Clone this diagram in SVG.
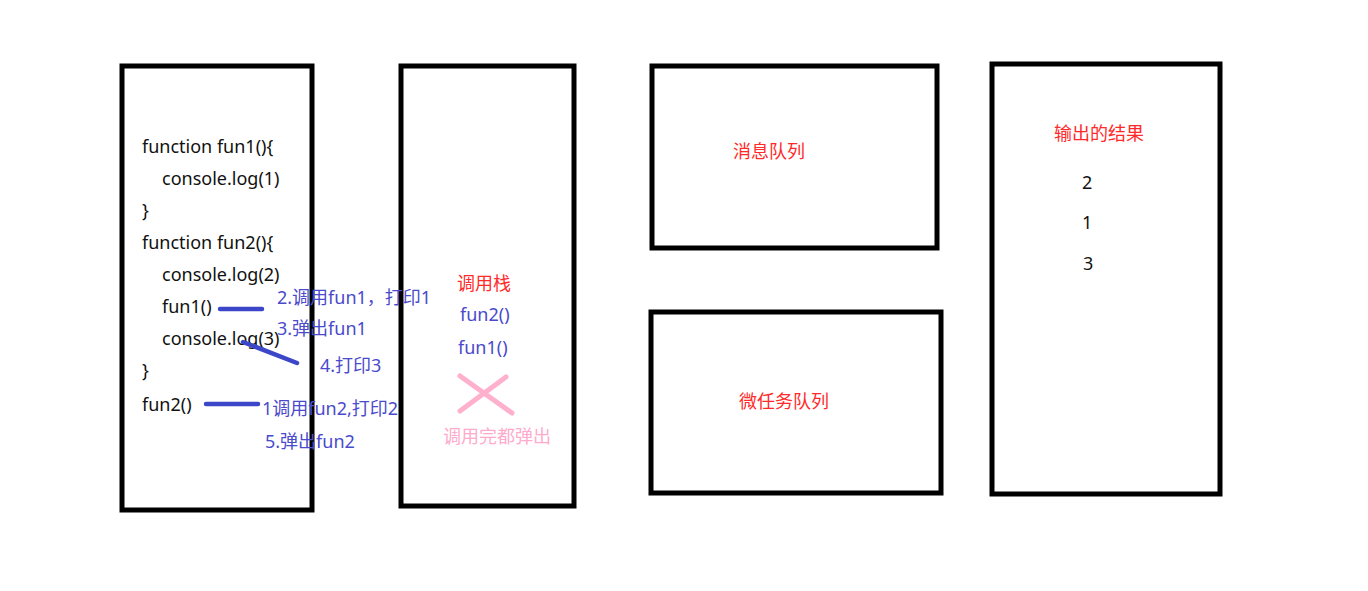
<svg xmlns="http://www.w3.org/2000/svg" width="1368" height="591" viewBox="0 0 1368 591">
<style>
.box{fill:none;stroke:#000;stroke-width:5}
text{font-family:"Noto Sans","Noto Sans CJK SC",sans-serif;font-size:18px;dominant-baseline:central}
.code{fill:#111}
.blue{fill:#4a4acc}
.red{fill:#ff2a2a}
.pink{fill:#ffaacc}
.bl{stroke:#3c46c8;stroke-width:4.5;stroke-linecap:round}
.pk{stroke:#ffb0cc;stroke-width:5;stroke-linecap:round}
</style>
<rect width="1368" height="591" fill="#fff"/>
<g id="code-box">
<rect class="box" x="122" y="66" width="190" height="444"/>
<text class="code" x="142" y="146">function fun1(){</text>
<text class="code" x="162" y="178">console.log(1)</text>
<text class="code" x="142" y="210">}</text>
<text class="code" x="142" y="242">function fun2(){</text>
<text class="code" x="162" y="274">console.log(2)</text>
<text class="code" x="162" y="306">fun1()</text>
<text class="code" x="162" y="338">console.log(3)</text>
<text class="code" x="142" y="370">}</text>
<text class="code" x="142" y="404">fun2()</text>
</g>
<g id="call-stack">
<rect class="box" x="401" y="66" width="173" height="440"/>
<text class="red" x="457" y="283">调用栈</text>
<text class="blue" x="460" y="314">fun2()</text>
<text class="blue" x="458" y="347">fun1()</text>
<text class="pink" x="443" y="436">调用完都弹出</text>
</g>
<g id="message-queue">
<rect class="box" x="652" y="66" width="285" height="182"/>
<text class="red" x="733" y="151">消息队列</text>
</g>
<g id="microtask-queue">
<rect class="box" x="651" y="312" width="290" height="181"/>
<text class="red" x="739" y="401">微任务队列</text>
</g>
<g id="output">
<rect class="box" x="992" y="64" width="228" height="430"/>
<text class="red" x="1054" y="133">输出的结果</text>
<text class="code" x="1082" y="182">2</text>
<text class="code" x="1082" y="222">1</text>
<text class="code" x="1083" y="263">3</text>
</g>
<g id="connectors">
<line class="bl" x1="220" y1="309" x2="262" y2="309"/>
<line class="bl" x1="243" y1="342" x2="297" y2="363"/>
<line class="bl" x1="206" y1="404" x2="258" y2="404"/>
<line class="pk" x1="460" y1="376" x2="512" y2="413"/>
<line class="pk" x1="460" y1="411" x2="506" y2="377"/>
<text class="blue" x="277" y="297">2.调用fun1，打印1</text>
<text class="blue" x="277" y="328">3.弹出fun1</text>
<text class="blue" x="320" y="365">4.打印3</text>
<text class="blue" x="262" y="408">1调用fun2,打印2</text>
<text class="blue" x="265" y="441">5.弹出fun2</text>
</g>
</svg>
